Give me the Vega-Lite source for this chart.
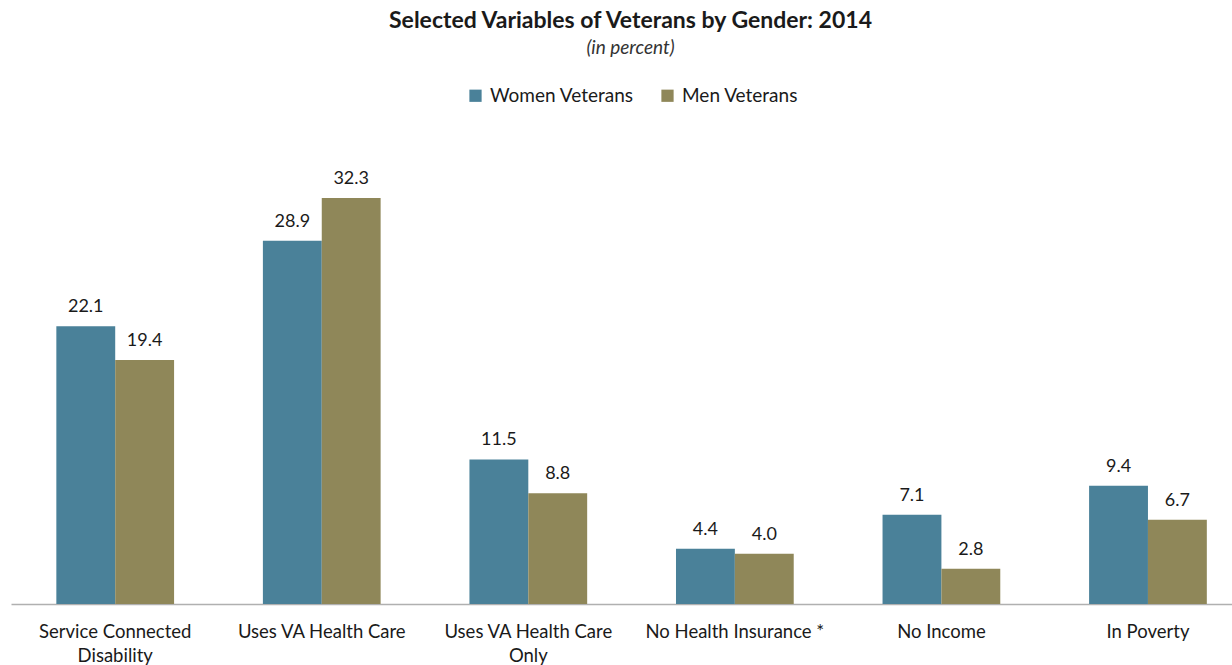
{
  "$schema": "https://vega.github.io/schema/vega-lite/v6.json",
  "autosize": {"type": "none"},
  "width": 1221,
  "height": 484,
  "padding": {"left": 11, "right": 0, "top": 120, "bottom": 61},
  "background": "white",
  "title": {
    "text": "Selected Variables of Veterans by Gender:  2014",
    "subtitle": "(in percent)",
    "anchor": "middle",
    "dx": 9,
    "offset": 28,
    "font": "Lato",
    "fontSize": 23,
    "fontWeight": "bold",
    "color": "#1a1a1a",
    "subtitleFont": "Lato",
    "subtitleFontSize": 19,
    "subtitleFontStyle": "italic",
    "subtitleColor": "#333333",
    "subtitlePadding": 6
  },
  "data": {
    "values": [
      {"category": "Service Connected Disability", "gender": "Women Veterans", "percent": 22.1},
      {"category": "Service Connected Disability", "gender": "Men Veterans", "percent": 19.4},
      {"category": "Uses VA Health Care", "gender": "Women Veterans", "percent": 28.9},
      {"category": "Uses VA Health Care", "gender": "Men Veterans", "percent": 32.3},
      {"category": "Uses VA Health Care Only", "gender": "Women Veterans", "percent": 11.5},
      {"category": "Uses VA Health Care Only", "gender": "Men Veterans", "percent": 8.8},
      {"category": "No Health Insurance *", "gender": "Women Veterans", "percent": 4.4},
      {"category": "No Health Insurance *", "gender": "Men Veterans", "percent": 4.0},
      {"category": "No Income", "gender": "Women Veterans", "percent": 7.1},
      {"category": "No Income", "gender": "Men Veterans", "percent": 2.8},
      {"category": "In Poverty", "gender": "Women Veterans", "percent": 9.4},
      {"category": "In Poverty", "gender": "Men Veterans", "percent": 6.7}
    ]
  },
  "encoding": {
    "x": {
      "field": "category",
      "type": "nominal",
      "sort": null,
      "scale": {"paddingInner": 0.43, "paddingOuter": 0.1707, "align": 0.643},
      "axis": {
        "title": null,
        "labelAngle": 0,
        "ticks": false,
        "domainColor": "#b0b0b0",
        "domainWidth": 1.5,
        "labelFont": "Lato",
        "labelFontSize": 18.5,
        "labelColor": "#1a1a1a",
        "labelPadding": 18,
        "labelLineHeight": 24,
        "labelLimit": 0,
        "labelExpr": "datum.label == 'Service Connected Disability' ? ['Service Connected', 'Disability'] : datum.label == 'Uses VA Health Care Only' ? ['Uses VA Health Care', 'Only'] : datum.label"
      }
    },
    "xOffset": {"field": "gender", "type": "nominal", "sort": ["Women Veterans", "Men Veterans"], "scale": {"paddingInner": 0}},
    "y": {
      "field": "percent",
      "type": "quantitative",
      "scale": {"domain": [0, 38.5], "nice": false},
      "axis": null
    }
  },
  "layer": [
    {
      "mark": {"type": "bar"},
      "encoding": {
        "color": {
          "field": "gender",
          "type": "nominal",
          "sort": ["Women Veterans", "Men Veterans"],
          "scale": {"domain": ["Women Veterans", "Men Veterans"], "range": ["#4a8199", "#8f8759"]},
          "legend": {
            "title": null,
            "orient": "none",
            "direction": "horizontal",
            "legendX": 455,
            "legendY": -34,
            "symbolType": "square",
            "symbolSize": 150,
            "symbolStrokeWidth": 0,
            "labelFont": "Lato",
            "labelFontSize": 19,
            "labelColor": "#1a1a1a",
            "columnPadding": 24,
            "labelOffset": 5
          }
        }
      }
    },
    {
      "mark": {"type": "text", "baseline": "bottom", "dy": -10, "font": "Lato", "fontSize": 18, "color": "#1a1a1a"},
      "encoding": {
        "text": {"field": "percent", "type": "quantitative", "format": ".1f"}
      }
    }
  ],
  "config": {"view": {"stroke": null}}
}
